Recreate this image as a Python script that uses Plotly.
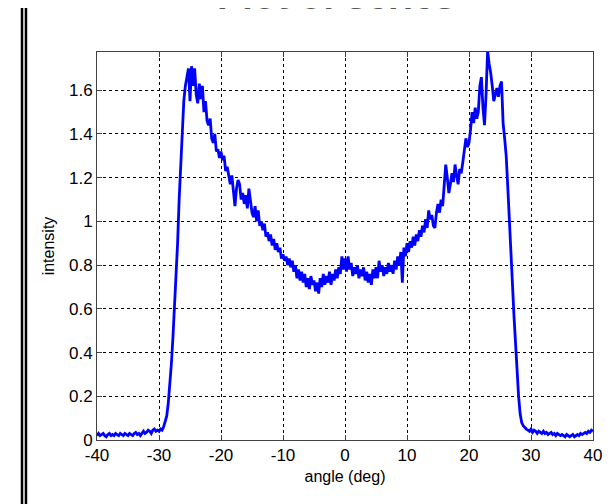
import plotly.graph_objects as go

# intensity sampled every 0.25 deg from -40 to 40
angle_start = -40.0
angle_step = 0.25
intensity = [
    # -40 .. -35.25
    0.02, 0.03, 0.02, 0.025, 0.03, 0.02, 0.015, 0.025, 0.03, 0.02, 0.025, 0.02, 0.03, 0.025, 0.02, 0.03, 0.025, 0.02, 0.03, 0.025,
    # -35 .. -30.25
    0.02, 0.03, 0.025, 0.02, 0.03, 0.035, 0.025, 0.03, 0.02, 0.03, 0.04, 0.03, 0.035, 0.045, 0.04, 0.03, 0.045, 0.05, 0.04, 0.045,
    # -30 .. -25.25
    0.04, 0.05, 0.045, 0.06, 0.08, 0.11, 0.17, 0.25, 0.35, 0.47, 0.6, 0.75, 0.9, 1.1, 1.25, 1.4, 1.55, 1.62, 1.67, 1.7,
    # -25 .. -20.25
    1.55, 1.71, 1.62, 1.70, 1.58, 1.54, 1.63, 1.56, 1.62, 1.50, 1.55, 1.46, 1.44, 1.47, 1.38, 1.36, 1.40, 1.32, 1.33, 1.29,
    # -20 .. -15.25
    1.32, 1.28, 1.30, 1.23, 1.25, 1.20, 1.17, 1.21, 1.12, 1.07, 1.15, 1.19, 1.17, 1.10, 1.13, 1.08, 1.12, 1.06, 1.15, 1.09,
    # -15 .. -10.25
    1.04, 1.02, 1.07, 1.00, 1.05, 0.98, 1.00, 0.96, 0.99, 0.93, 0.95, 0.91, 0.94, 0.89, 0.92, 0.87, 0.90, 0.86, 0.88, 0.83,
    # -10 .. -5.25
    0.85, 0.82, 0.84, 0.80, 0.83, 0.79, 0.82, 0.77, 0.80, 0.74, 0.78, 0.73, 0.77, 0.72, 0.76, 0.70, 0.74, 0.69, 0.75, 0.71,
    # -5 .. -0.25
    0.73, 0.68, 0.72, 0.67, 0.74, 0.70, 0.76, 0.71, 0.75, 0.72, 0.77, 0.71, 0.76, 0.73, 0.78, 0.74, 0.79, 0.76, 0.84, 0.78,
    # 0 .. 4.75
    0.83, 0.77, 0.84, 0.78, 0.81, 0.75, 0.79, 0.76, 0.80, 0.74, 0.78, 0.75, 0.79, 0.73, 0.77, 0.72, 0.76, 0.71, 0.78, 0.74,
    # 5 .. 9.75
    0.79, 0.74, 0.82, 0.77, 0.80, 0.75, 0.79, 0.76, 0.81, 0.77, 0.80, 0.76, 0.82, 0.78, 0.84, 0.80, 0.86, 0.72, 0.88, 0.84,
    # 10 .. 14.75
    0.90, 0.86, 0.91, 0.88, 0.93, 0.89, 0.94, 0.91, 0.96, 0.93, 0.98, 0.95, 1.01, 0.97, 1.05, 1.01, 1.03, 0.98, 0.97, 1.04,
    # 15 .. 19.75
    1.08, 1.04, 1.10, 1.07, 1.18, 1.26, 1.20, 1.13, 1.17, 1.22, 1.18, 1.26, 1.21, 1.17, 1.24, 1.22, 1.27, 1.33, 1.38, 1.34,
    # 20 .. 24.75
    1.36, 1.42, 1.50, 1.45, 1.52, 1.47, 1.50, 1.62, 1.66, 1.52, 1.44, 1.58, 1.78, 1.72, 1.68, 1.62, 1.55, 1.58, 1.61, 1.57,
    # 25 .. 29.75
    1.62, 1.64, 1.45, 1.38, 1.30, 1.16, 1.03, 0.88, 0.72, 0.57, 0.43, 0.30, 0.20, 0.12, 0.08, 0.065, 0.055, 0.05, 0.045, 0.04,
    # 30 .. 34.75
    0.05, 0.035, 0.045, 0.04, 0.03, 0.04, 0.035, 0.03, 0.04, 0.03, 0.035, 0.025, 0.03, 0.035, 0.025, 0.03, 0.02, 0.03, 0.025, 0.02,
    # 35 .. 39.75
    0.025, 0.02, 0.015, 0.025, 0.02, 0.015, 0.02, 0.025, 0.015, 0.02, 0.025, 0.02, 0.03, 0.025, 0.03, 0.035, 0.03, 0.04, 0.035, 0.045,
    # 40
    0.04,
]
angle = [angle_start + angle_step * i for i in range(len(intensity))]

x_ticks = [-40, -30, -20, -10, 0, 10, 20, 30, 40]
x_tick_labels = ["-40", "-30", "-20", "-10", "0", "10", "20", "30", "40"]
y_ticks = [0, 0.2, 0.4, 0.6, 0.8, 1, 1.2, 1.4, 1.6]
y_tick_labels = ["0", "0.2", "0.4", "0.6", "0.8", "1", "1.2", "1.4", "1.6"]

title_text = "Plot of series"
x_title = "angle (deg)"
y_title = "intensity"

fig = go.Figure()
fig.add_trace(go.Scatter(
    x=angle, y=intensity, mode="lines",
    line=dict(color="#0000FF", width=2.8),
    showlegend=False, hoverinfo="skip",
))

axis_common = dict(
    showline=True, linecolor="#404040", linewidth=1, mirror="allticks",
    ticks="inside", ticklen=5, tickcolor="#404040",
    showgrid=True, gridcolor="#000000", griddash="dot", gridwidth=1,
    zeroline=False,
    tickfont=dict(family="Liberation Sans, Arial", size=17, color="#000000"),
)

fig.update_layout(
    width=612, height=504,
    paper_bgcolor="#FFFFFF", plot_bgcolor="#FFFFFF",
    margin=dict(l=89, r=27, t=44, b=72),
    annotations=[
        dict(text="<b>" + title_text + "</b>", xref="paper", yref="paper",
             x=0.482, y=1.086, xanchor="center", yanchor="bottom", showarrow=False,
             font=dict(family="Liberation Sans, Arial", size=38, color="#555555")),
    ],
    xaxis=dict(
        range=[-40, 40], tickvals=x_ticks, ticktext=x_tick_labels,
        title=dict(text=x_title, standoff=6,
                   font=dict(family="Liberation Sans, Arial", size=16, color="#000000")),
        **axis_common,
    ),
    yaxis=dict(
        range=[0, 1.775], tickvals=y_ticks, ticktext=y_tick_labels,
        title=dict(text=y_title, standoff=10,
                   font=dict(family="Liberation Sans, Arial", size=16, color="#000000")),
        **axis_common,
    ),
    shapes=[
        dict(type="line", xref="paper", yref="paper", x0=-0.1512, x1=-0.1512, y0=-0.3, y1=1.2,
             line=dict(color="#000000", width=2.5)),
        dict(type="line", xref="paper", yref="paper", x0=-0.1432, x1=-0.1432, y0=-0.3, y1=1.2,
             line=dict(color="#000000", width=2.5)),
    ],
)

fig.write_html("out.html")
